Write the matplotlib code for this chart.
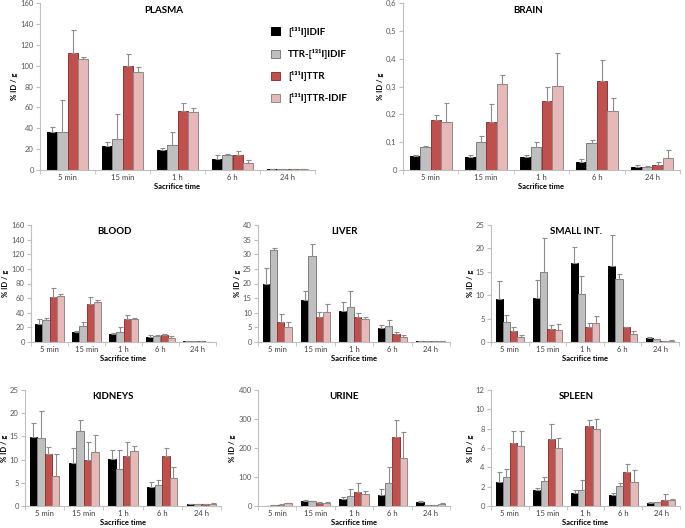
import matplotlib
matplotlib.use("Agg")
import matplotlib.pyplot as plt
import numpy as np
from matplotlib.patches import Patch
from matplotlib.ticker import FuncFormatter

plt.rcParams['font.family'] = ['Lato', 'DejaVu Sans']

times = ['5 min', '15 min', '1 h', '6 h', '24 h']
labels = ['[¹³¹I]IDIF', 'TTR-[¹³¹I]IDIF', '[¹³¹I]TTR', '[¹³¹I]TTR-IDIF']

# mean values, rows = series (same order as labels), cols = times
plasma = [[36, 23, 19, 10.5, 1], [36, 29.5, 24, 14.4, 0.5],
          [112.5, 100, 57, 14.4, 0.5], [106, 93.5, 56, 7, 0.5]]
plasma_sd = [[5, 4, 2, 4, 0], [31, 24.5, 12, 0.6, 0],
             [21.5, 11, 7, 3.6, 0], [2.5, 5.5, 3, 3, 0]]

brain = [[0.049, 0.045, 0.048, 0.030, 0.011], [0.083, 0.099, 0.083, 0.097, 0.012],
         [0.180, 0.174, 0.247, 0.321, 0.018], [0.172, 0.308, 0.302, 0.212, 0.043]]
brain_sd = [[0.006, 0.009, 0.007, 0.008, 0.007], [0.005, 0.023, 0.018, 0.012, 0.001],
            [0.017, 0.062, 0.050, 0.076, 0.012], [0.070, 0.032, 0.120, 0.048, 0.029]]

blood = [[24, 13.6, 11.3, 7.3, 1.2], [30, 21.8, 13.6, 8.6, 0.8],
         [61.6, 52, 31.3, 9.5, 0.8], [63, 54.4, 30.8, 5.4, 0.6]]
blood_sd = [[7, 1.8, 0.9, 2.2, 0.2], [3, 5.8, 7.2, 0.9, 0],
            [12.4, 9.6, 5.4, 1.4, 0], [2, 2.6, 2.2, 3.2, 0]]

liver = [[20, 14.2, 10.7, 4.7, 0.3], [31.5, 29.3, 11.9, 5.6, 0.3],
         [6.7, 8.6, 8.4, 2.8, 0.3], [5.2, 10.1, 7.8, 1.8, 0.3]]
liver_sd = [[5.4, 3.2, 2.9, 1.1, 0], [0.8, 4.3, 5.5, 1.9, 0.2],
            [2.8, 1.6, 1.4, 0.6, 0], [1.5, 2.9, 0.9, 0.6, 0]]

smallint = [[9.2, 9.5, 16.9, 16.2, 0.9], [4.3, 15, 10.2, 13.4, 0.65],
            [2.3, 2.8, 3.3, 3.1, 0.2], [1.1, 2.6, 4, 1.7, 0.3]]
smallint_sd = [[3.8, 3.7, 3.4, 6.6, 0.1], [1.4, 7.2, 4, 1.2, 0.05],
               [0.9, 0.8, 0.7, 0.2, 0], [0.3, 1.2, 1.5, 0.6, 0.05]]

kidneys = [[14.9, 9.2, 10.1, 4.0, 0.4], [14.7, 16.1, 8.0, 4.6, 0.35],
           [11.3, 9.9, 10.8, 10.8, 0.45], [6.4, 11.6, 11.8, 6.1, 0.5]]
kidneys_sd = [[3, 3.2, 1.9, 1.2, 0.1], [5.8, 2.5, 4, 1.1, 0],
              [1.5, 4, 2.9, 1.7, 0], [4.8, 3.6, 1.2, 2.2, 0.05]]

urine = [[1, 17, 22.7, 38.5, 13.6], [2, 16, 33, 80.5, 3.4],
         [5, 11, 50, 239, 3.4], [9, 11, 40, 164, 6.8]]
urine_sd = [[0, 3, 6.8, 21.5, 4.4], [1, 1, 27, 53.5, 0],
            [1, 3, 29, 59, 1.1], [2, 3, 11, 91, 2.2]]

spleen = [[2.5, 1.63, 1.33, 1.09, 0.27], [2.96, 2.62, 1.7, 2.1, 0.37],
          [6.56, 6.9, 8.29, 3.47, 0.65], [6.22, 6.02, 7.92, 2.52, 0.65]]
spleen_sd = [[1.0, 0.27, 0.37, 0.24, 0.13], [0.88, 0.41, 1.02, 0.28, 0],
             [1.16, 1.6, 0.61, 0.91, 0.54], [1.56, 1.05, 1.08, 1.22, 0.1]]

faces = ['#000000', '#BFBFBF', '#C0504D', '#E6B9B8']
edges = ['#000000', '#7F7F7F', '#8C3836', '#8C8C8C']

W, H = 685, 528
fig = plt.figure(figsize=(W / 100, H / 100), dpi=100)


def panel(px, title, means, sds, ymax, ystep, comma=False):
    left, top, right, bottom = px
    ax = fig.add_axes([left / W, 1 - bottom / H, (right - left) / W, (bottom - top) / H])
    x = np.arange(len(times))
    bw = 0.19
    for i in range(4):
        m = np.array(means[i])
        s = np.array(sds[i])
        ax.bar(x + (i - 1.5) * bw, m, bw, color=faces[i], edgecolor=edges[i], linewidth=0.7,
               yerr=[np.zeros_like(s), s], ecolor='#8C8C8C',
               error_kw=dict(elinewidth=0.8, capsize=1.8, capthick=0.8))
    ax.set_xlim(-0.5, len(times) - 0.5)
    ax.set_ylim(0, ymax)
    ax.set_yticks(np.arange(0, ymax + ystep / 2, ystep))
    if comma:
        ax.yaxis.set_major_formatter(FuncFormatter(lambda v, p: ('%g' % round(v, 2)).replace('.', ',')))
    ax.set_xticks(x)
    ax.set_xticklabels(times)
    ax.set_xticks(np.arange(-0.5, len(times)), minor=True)
    ax.tick_params(axis='x', which='major', length=0, labelsize=5.5, colors='#404040', pad=3)
    ax.tick_params(axis='x', which='minor', length=3, color='#BFBFBF')
    ax.tick_params(axis='y', length=3, color='#BFBFBF', labelsize=5.5, labelcolor='#595959', pad=1.5)
    for sp in ['top', 'right']:
        ax.spines[sp].set_visible(False)
    for sp in ['left', 'bottom']:
        ax.spines[sp].set_color('#BFBFBF')
        ax.spines[sp].set_linewidth(0.8)
    ax.set_xlabel('Sacrifice time', fontsize=5.5, fontweight='bold', labelpad=1.5)
    ax.set_ylabel('% ID / g', fontsize=5.5, fontweight='bold', labelpad=1.5)
    ax.text(0.45, 0.985, title, transform=ax.transAxes, ha='center', va='top',
            fontsize=7, fontweight='bold')
    return ax


panel((40, 3, 315, 170), 'PLASMA', plasma, plasma_sd, 160, 20)
panel((403, 3, 680, 170), 'BRAIN', brain, brain_sd, 0.6, 0.1, comma=True)
panel((31, 225, 216, 342), 'BLOOD', blood, blood_sd, 160, 20)
panel((258, 225, 450, 342), 'LIVER', liver, liver_sd, 40, 5)
panel((491, 225, 679, 342), 'SMALL INT.', smallint, smallint_sd, 25, 5)
panel((25, 390, 221, 506), 'KIDNEYS', kidneys, kidneys_sd, 25, 5)
panel((258, 390, 450, 506), 'URINE', urine, urine_sd, 400, 100)
panel((491, 390, 680, 506), 'SPLEEN', spleen, spleen_sd, 12, 2)

handles = [Patch(facecolor=faces[i], edgecolor=edges[i], linewidth=0.7) for i in range(4)]
fig.legend(handles, labels, loc='upper left', bbox_to_anchor=(262 / W, 1 - 18 / H),
           frameon=False, prop=dict(size=7, weight='bold'), handlelength=0.9,
           handleheight=0.9, labelspacing=1.25, handletextpad=0.9)

fig.savefig('out.png', dpi=100, facecolor='white')
